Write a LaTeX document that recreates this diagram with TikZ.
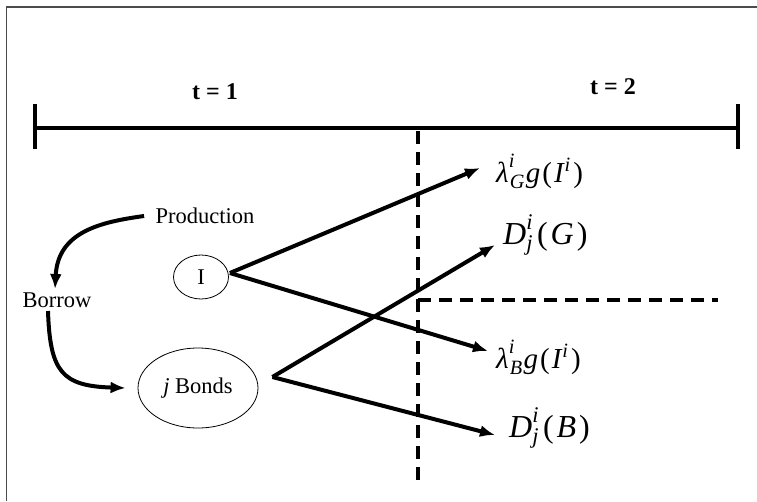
\documentclass[tikz,border=0pt]{standalone}
\usepackage{amsmath}
\usepackage{fontspec}
\setmainfont{Liberation Serif}
\usetikzlibrary{arrows.meta,shapes.geometric}
\newcommand{\supi}{\text{\raisebox{2.5pt}{\itshape i}}}
\begin{document}
\begin{tikzpicture}[x=1pt,y=-1pt,
  lbl/.style={font=\fontsize{22.5}{26}\selectfont},
  tlbl/.style={font=\fontsize{24}{28}\selectfont\bfseries},
  mlbl/.style={font=\fontsize{29}{33}\selectfont, anchor=west, inner sep=0pt},
  dlbl/.style={font=\fontsize{32}{36}\selectfont, anchor=west, inner sep=0pt},
  axis/.style={line width=3.2pt},
  arr/.style={line width=4pt, -{Latex[length=15pt,width=12pt]}},
  dsh/.style={line width=3.8pt, dash pattern=on 13pt off 8pt},
  oval/.style={draw, ellipse, line width=0.8pt, inner sep=0pt, font=\fontsize{22.5}{26}\selectfont}
]
\useasboundingbox (0,0) rectangle (757,501);
% frame
\draw[gray!60!black, line width=1.5pt] (6.5,501) -- (6.5,7) -- (757,7);
% timeline
\coordinate (tl) at (35,128);
\coordinate (tr) at (738,128);
\draw[axis] (tl) -- (tr);
\draw[axis] ([yshift=24pt]tl) -- ([yshift=-21pt]tl);
\draw[axis] ([yshift=24pt]tr) -- ([yshift=-21pt]tr);
\node[tlbl] (t1) at (215,92) {t = 1};
\node[tlbl] (t2) at (613,87) {t = 2};
% dashed lines
\coordinate (vtop) at (418,131);
\coordinate (vbot) at (418,482);
\coordinate (hl) at (418,300);
\coordinate (hr) at (718,300);
\draw[dsh] (vtop) -- (vbot);
\draw[dsh] (hl) -- (hr);
% left side
\node[lbl] (prod) at (205,216) {Production};
\node[lbl] (bor) at (57,300) {Borrow};
\node[oval, minimum width=55pt, minimum height=44pt] (I) at (201,277) {I};
\node[oval, minimum width=120pt, minimum height=80pt] (jb) at (198,388) {\textit{j} Bonds};
\draw[arr] ([xshift=-8pt]prod.west) .. controls (100,222) and (58,232) .. ([xshift=-2pt]bor.north);
\draw[arr] ([xshift=-9pt]bor.south) .. controls (50,372) and (62,386) .. ([xshift=-12pt]jb.west);
% right labels
\node[mlbl] (lG) at (496,171) {$\textit{λ}^{\supi}_{\hspace{1pt}\textit{G}}\hspace{1pt}\textit{g}\hspace{2pt}\text{(}\hspace{2pt}\textit{I}^{\hspace{1pt}\textit{i}}\hspace{2.5pt}\text{)}$};
\node[dlbl] (dG) at (503,235) {$\textit{D}^{\supi}_{\textit{j}}\hspace{4pt}\text{(}\hspace{3pt}\textit{G}\hspace{3pt}\text{)}$};
\node[mlbl] (lB) at (496,357) {$\textit{λ}^{\supi}_{\hspace{1pt}\textit{B}}\hspace{1pt}\textit{g}\hspace{2pt}\text{(}\hspace{2pt}\textit{I}^{\hspace{1pt}\textit{i}}\hspace{2.5pt}\text{)}$};
\node[dlbl] (dB) at (509,428) {$\textit{D}^{\supi}_{\textit{j}}\hspace{4pt}\text{(}\hspace{3pt}\textit{B}\hspace{3pt}\text{)}$};
% arrows
\draw[arr] ([xshift=1pt,yshift=4pt]I.east) -- ([xshift=-16pt,yshift=3pt]lG.west);
\draw[arr] ([xshift=1pt,yshift=4pt]I.east) -- ([xshift=-8pt,yshift=6pt]lB.west);
\draw[arr] ([xshift=14pt,yshift=11pt]jb.east) -- ([xshift=-8pt,yshift=-10pt]dG.west);
\draw[arr] ([xshift=14pt,yshift=11pt]jb.east) -- ([xshift=-14pt,yshift=-7pt]dB.west);
\end{tikzpicture}
\end{document}
